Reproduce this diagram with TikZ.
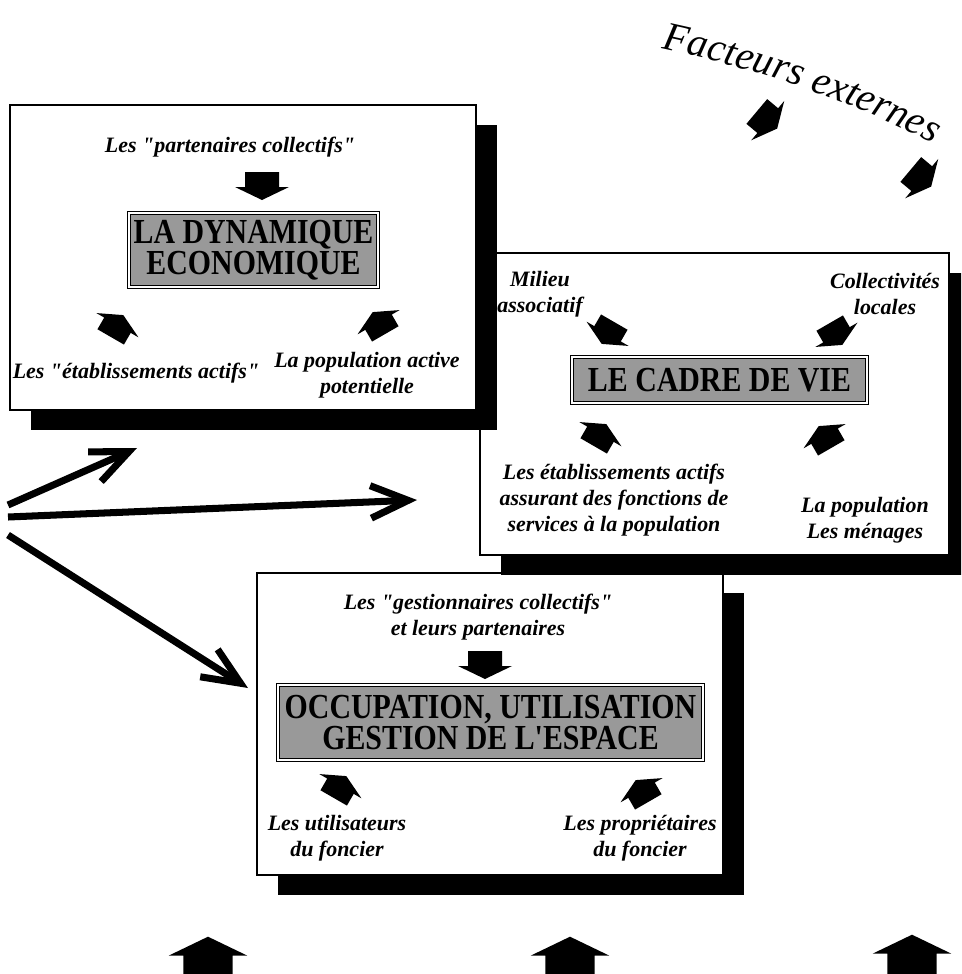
\documentclass[tikz,border=0pt]{standalone}
\usepackage{fontspec}
\setmainfont{Liberation Serif}[Ligatures=TeXOff]
\usepackage{graphicx}
\usetikzlibrary{arrows.meta, shadows, decorations.text}
\newcommand{\serre}[1]{\scalebox{0.85}[1]{#1}}

\begin{document}
\begin{tikzpicture}[x=0.02cm, y=-0.02cm,
  cadre/.style={draw, fill=white, line width=0.8pt, inner sep=0pt,
    drop shadow={shadow xshift=0.42cm, shadow yshift=-0.4cm, fill=black, opacity=1}},
  titre/.style={draw, line width=0.6pt, double=white, double distance=1.2pt, fill=black!40,
    inner sep=0pt, align=center, font=\fontsize{20}{16}\selectfont\bfseries},
  etiq/.style={align=center, inner sep=1pt, font=\fontsize{12.5}{15}\selectfont\bfseries\itshape},
  grandfleche/.style={line width=4pt, -{Straight Barb[length=0.75cm, width=0.65cm]}},
  pics/fleche/.style={code={
    \fill (-14,-17) -- (1,-17) -- (1,-27) -- (14,0) -- (1,27) -- (1,17) -- (-14,17) -- cycle;}}]
  \useasboundingbox (0,0) rectangle (961,974);
  \clip (0,0) rectangle (961,974);

  % boites, de l'arriere vers l'avant
  \node[cadre, minimum width=9.32cm, minimum height=6.04cm] (espace) at (490,724) {};
  \node[cadre, minimum width=9.38cm, minimum height=6.04cm] (vie) at (714.5,404) {};
  \node[cadre, minimum width=9.32cm, minimum height=6.10cm] (eco) at (243,257.5) {};

  % la dynamique economique
  \node[titre, minimum width=4.98cm, minimum height=1.48cm] (t1) at (253.5,250) {\serre{LA DYNAMIQUE}\\\serre{ECONOMIQUE}};
  \node[etiq] (part) at (230,147) {Les "partenaires collectifs"};
  \node[etiq] (etab) at (136,373) {Les "établissements actifs"};
  \node[etiq] (popact) at (367,375) {La population active\\potentielle};
  \pic[rotate=-90] (f1) at (262,186) {fleche};
  \pic[rotate=60, scale=0.9] (f2) at (117,326) {fleche};
  \pic[rotate=120, scale=0.9] (f3) at (379,323) {fleche};

  % le cadre de vie
  \node[titre, minimum width=5.9cm, minimum height=0.92cm] (t2) at (719.5,380) {\serre{LE CADRE DE VIE}};
  \node[etiq] (milieu) at (540,294) {Milieu\\associatif};
  \node[etiq] (coll) at (885,294) {Collectivités\\locales};
  \node[etiq] (serv) at (614,500) {Les établissements actifs\\assurant des fonctions de\\services à la population};
  \node[etiq] (menages) at (865,520) {La population\\Les ménages};
  \pic[rotate=-120, scale=0.9] (f4) at (608,333) {fleche};
  \pic[rotate=-60, scale=0.9] (f5) at (836,334) {fleche};
  \pic[rotate=60, scale=0.9] (f6) at (600,435) {fleche};
  \pic[rotate=120, scale=0.9] (f7) at (825,437) {fleche};

  % occupation de l'espace
  \node[titre, minimum width=8.5cm, minimum height=1.5cm] (t3) at (490.5,722.5) {\serre{OCCUPATION, UTILISATION}\\\serre{GESTION DE L'ESPACE}};
  \node[etiq] (gest) at (478,617) {Les "gestionnaires collectifs"\\et leurs partenaires};
  \node[etiq] (util) at (337,838) {Les utilisateurs\\du foncier};
  \node[etiq] (prop) at (640,838) {Les propriétaires\\du foncier};
  \pic[rotate=-90] (f8) at (485,665) {fleche};
  \pic[rotate=60, scale=0.9] (f9) at (340,787) {fleche};
  \pic[rotate=120, scale=0.9] (f10) at (642,791) {fleche};

  % facteurs externes
  \path[decorate, decoration={text along path, text align=center,
    text={|\fontsize{23}{23}\selectfont\itshape|Facteurs externes}}]
    (645,45) .. controls (745,65) and (850,98) .. (948,152);
  \pic[rotate=-40, scale=0.95] (f11) at (767,120) {fleche};
  \pic[rotate=-40, scale=0.95] (f12) at (921,178) {fleche};

  % grandes fleches du bas
  \pic[rotate=90, scale=1.45] (f13) at (208,957) {fleche};
  \pic[rotate=90, scale=1.45] (f14) at (570,957) {fleche};
  \pic[rotate=90, scale=1.45] (f15) at (912,955) {fleche};

  % fleches de gauche
  \coordinate (src1) at (8,505);
  \coordinate (src2) at (8,517);
  \coordinate (src3) at (8,535);
  \coordinate (dst1) at (137,448);
  \coordinate (dst2) at (417,500);
  \coordinate (dst3) at (248,688);
  \draw[grandfleche] (src1) -- (dst1);
  \draw[grandfleche] (src2) -- (dst2);
  \draw[grandfleche] (src3) -- (dst3);
\end{tikzpicture}
\end{document}
